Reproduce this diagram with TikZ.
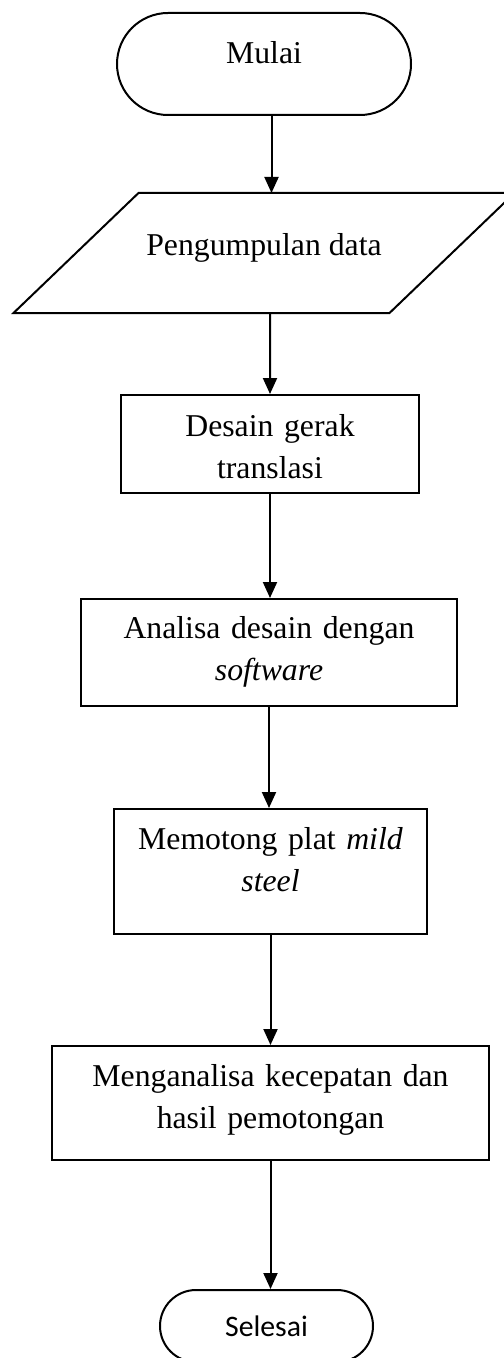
\documentclass[tikz,border=0pt]{standalone}
\usepackage{fontspec}
\setmainfont{Liberation Serif}
\newfontfamily\calibrifont{Carlito}
\usetikzlibrary{shapes.misc, arrows.meta}

\begin{document}
\begin{tikzpicture}[
    x=0.4pt, y=-0.4pt,
    terminal/.style={rounded rectangle, draw, line width=0.8pt, inner sep=0pt, anchor=north, font=\fontsize{12.7}{16.8}\selectfont},
    process/.style={rectangle, draw, line width=0.8pt, inner sep=0pt, align=center, anchor=north, font=\fontsize{12.7}{16.8}\selectfont},
    iobox/.style={rectangle, inner sep=0pt, anchor=north, font=\fontsize{12.7}{16.8}\selectfont},
    arrow/.style={-{Triangle[length=6.4pt, width=5.6pt]}, line width=0.8pt}
]
\useasboundingbox (0,0) rectangle (504,1358);

% Start
\node[terminal, minimum width=117.6pt, text height=20.4pt, text depth=20.4pt] (mulai) at (264,12) {Mulai};

% Input data (parallelogram drawn round the node)
\node[iobox, minimum width=150pt, text height=24.8pt, text depth=22.8pt] (data) at (264,193) {Pengumpulan data};
\draw[line width=0.8pt] ([xshift=-25pt]data.south west) -- ([xshift=25pt]data.north west)
    -- ([xshift=25pt]data.north east) -- ([xshift=-25pt]data.south east) -- cycle;

% Process steps
\node[process, text width=119.2pt, text height=16.4pt, text depth=22.8pt] (desain) at (270,394) {Desain gerak\\translasi};
\node[process, text width=150.4pt, text height=15.6pt, text depth=27.2pt] (analisa) at (269,598) {Analisa desain dengan\\\textit{software}};
\node[process, text width=125.2pt, text height=16pt, text depth=34pt] (potong) at (270.5,808) {Memotong plat \textit{mild}\\\textit{steel}};
\node[process, text width=174.8pt, text height=16pt, text depth=29.6pt] (hasil) at (270.5,1045) {Menganalisa kecepatan dan\\hasil pemotongan};

% End
\node[terminal, minimum width=85.2pt, text height=18.4pt, text depth=10.4pt, font=\calibrifont\fontsize{11.9}{14}\selectfont] (selesai) at (266.5,1289) {Selesai};

% Flow
\draw[arrow] ([xshift=3pt]mulai.south) -- ([xshift=3pt]data.north);
\draw[arrow] ([xshift=2.4pt]data.south) -- (desain.north);
\draw[arrow] (desain.south) -- (desain.south |- analisa.north);
\draw[arrow] (analisa.south) -- (analisa.south |- potong.north);
\draw[arrow] (potong.south) -- (potong.south |- hasil.north);
\draw[arrow] (hasil.south) -- (hasil.south |- selesai.north);

\end{tikzpicture}
\end{document}
